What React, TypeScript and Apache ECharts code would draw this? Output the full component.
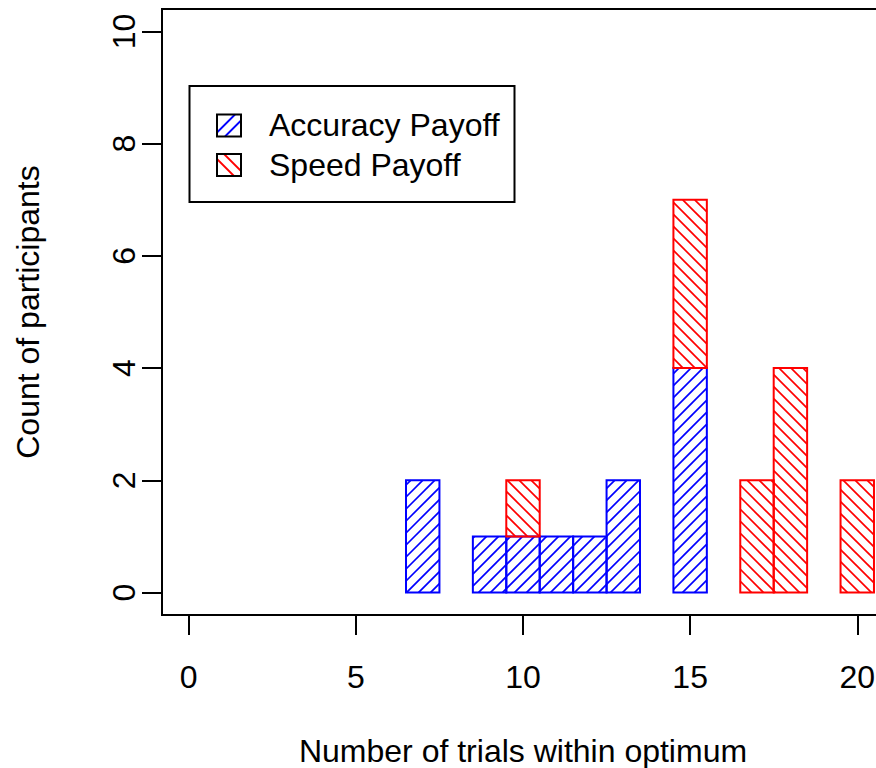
import React, { useEffect, useRef } from "react";
import * as echarts from "echarts";

// Histogram of trials within optimum, split by payoff condition
const trialCounts = [7, 9, 10, 11, 12, 13, 15, 17, 18, 20];
const accuracyCounts = [2, 1, 1, 1, 1, 2, 4, 0, 0, 0];
const speedCounts = [0, 0, 1, 0, 0, 0, 3, 2, 4, 2];

const seriesNames = ["Accuracy Payoff", "Speed Payoff"];
const seriesColors = ["#0000FF", "#FF0000"];
const xTicks = [0, 5, 10, 15, 20];
const yTicks = [0, 2, 4, 6, 8, 10];

const FONT = "Liberation Sans, Arial, Helvetica, sans-serif";
const FONT_SIZE = 32;
const HATCH_STEP = 12;

type Seg = { x1: number; y1: number; x2: number; y2: number };

// Diagonal hatch segments clipped to a rectangle (screen coordinates).
// dir = 1 draws "/" lines (x + y = c), dir = -1 draws "\" lines (x - y = c).
function hatchSegments(
  x0: number, y0: number, x1: number, y1: number,
  dir: number, step: number, phase: number
): Seg[] {
  const segs: Seg[] = [];
  if (dir === 1) {
    const cMin = x0 + y0, cMax = x1 + y1;
    let c = Math.ceil((cMin - phase) / step) * step + phase;
    for (; c <= cMax; c += step) {
      const xa = Math.max(x0, c - y1);
      const xb = Math.min(x1, c - y0);
      if (xb - xa > 0.3) segs.push({ x1: xa, y1: c - xa, x2: xb, y2: c - xb });
    }
  } else {
    const cMin = x0 - y1, cMax = x1 - y0;
    let c = Math.ceil((cMin - phase) / step) * step + phase;
    for (; c <= cMax; c += step) {
      const xa = Math.max(x0, y0 + c);
      const xb = Math.min(x1, y1 + c);
      if (xb - xa > 0.3) segs.push({ x1: xa, y1: xa - c, x2: xb, y2: xb - c });
    }
  }
  return segs;
}

function buildStack(values: number[], base: number[]) {
  const out: number[][] = [];
  trialCounts.forEach((x, i) => {
    if (values[i] > 0) out.push([x, base[i], base[i] + values[i]]);
  });
  return out;
}

function hatchedBar(color: string, dir: number) {
  return (params: any, api: any) => {
    const x = api.value(0);
    const lo = api.value(1);
    const hi = api.value(2);
    const pA = api.coord([x - 0.5, lo]);
    const pB = api.coord([x + 0.5, hi]);
    const x0 = pA[0], x1 = pB[0], y0 = pB[1], y1 = pA[1];
    const lines = hatchSegments(x0, y0, x1, y1, dir, HATCH_STEP, 3).map((s) => ({
      type: "line",
      shape: s,
      style: { stroke: color, lineWidth: 1.7 },
    }));
    return {
      type: "group",
      children: [
        ...lines,
        {
          type: "rect",
          shape: { x: x0, y: y0, width: x1 - x0, height: y1 - y0 },
          style: { fill: "none", stroke: color, lineWidth: 2 },
        },
      ],
    };
  };
}

function legendKey(x: number, y: number, w: number, h: number, color: string, dir: number, cs: number[]) {
  const lines = cs.map((c) => {
    let seg: Seg;
    if (dir === 1) {
      const xa = Math.max(0, c - h), xb = Math.min(w, c);
      seg = { x1: x + xa, y1: y + c - xa, x2: x + xb, y2: y + c - xb };
    } else {
      const xa = Math.max(0, c), xb = Math.min(w, h + c);
      seg = { x1: x + xa, y1: y + xa - c, x2: x + xb, y2: y + xb - c };
    }
    return { type: "line", shape: seg, style: { stroke: color, lineWidth: 1.8 } };
  });
  return [
    ...lines,
    { type: "rect", shape: { x, y, width: w, height: h }, style: { fill: "none", stroke: "#000", lineWidth: 2 } },
  ];
}

export default function App() {
  const ref = useRef<HTMLDivElement>(null);

  useEffect(() => {
    if (!ref.current) return;
    const chart = echarts.init(ref.current, undefined, { renderer: "svg" });
    const zeros = trialCounts.map(() => 0);

    chart.setOption({
      animation: false,
      backgroundColor: "#fff",
      textStyle: { fontFamily: FONT },
      grid: {
        left: 162,
        top: 9,
        width: 722,
        height: 606,
        outerBoundsMode: "none",
        containLabel: false,
        show: true,
        borderColor: "#000",
        borderWidth: 2,
        backgroundColor: "transparent",
      },
      xAxis: {
        type: "value",
        min: -0.8,
        max: 20.8,
        name: "Number of trials within optimum",
        nameLocation: "middle",
        nameGap: 120,
        nameTextStyle: { fontSize: FONT_SIZE, color: "#000", fontFamily: FONT },
        axisLine: { show: false, onZero: false },
        splitLine: { show: false },
        axisTick: { show: true, inside: false, length: 20, lineStyle: { color: "#000", width: 2 }, customValues: xTicks },
        axisLabel: { customValues: xTicks, fontSize: FONT_SIZE, color: "#000", margin: 46, fontFamily: FONT },
      },
      yAxis: {
        type: "value",
        min: -0.4,
        max: 10.4,
        name: "Count of participants",
        nameLocation: "middle",
        nameRotate: 90,
        nameGap: 118,
        nameTextStyle: { fontSize: FONT_SIZE, color: "#000", fontFamily: FONT },
        axisLine: { show: false, onZero: false },
        splitLine: { show: false },
        axisTick: { show: true, inside: false, length: 20, lineStyle: { color: "#000", width: 2 }, customValues: yTicks },
        axisLabel: {
          customValues: yTicks,
          rotate: 90,
          fontSize: FONT_SIZE,
          color: "#000",
          margin: 22,
          align: "center",
          verticalAlign: "bottom",
          fontFamily: FONT,
        },
      },
      series: [
        {
          name: seriesNames[0],
          type: "custom",
          renderItem: hatchedBar(seriesColors[0], 1),
          data: buildStack(accuracyCounts, zeros),
          encode: { x: 0, y: [1, 2] },
          clip: false,
        },
        {
          name: seriesNames[1],
          type: "custom",
          renderItem: hatchedBar(seriesColors[1], -1),
          data: buildStack(speedCounts, accuracyCounts),
          encode: { x: 0, y: [1, 2] },
          clip: false,
        },
      ],
      graphic: [
        {
          type: "group",
          children: [
            {
              type: "rect",
              shape: { x: 189.5, y: 86, width: 325, height: 116 },
              style: { fill: "#fff", stroke: "#000", lineWidth: 2 },
            },
            ...legendKey(217, 114.5, 24, 22, seriesColors[0], 1, [18, 30]),
            ...legendKey(217, 154, 24, 22, seriesColors[1], -1, [-5, 7]),
            {
              type: "text",
              x: 269,
              y: 125,
              style: { text: seriesNames[0], font: `${FONT_SIZE}px ${FONT}`, fill: "#000", verticalAlign: "middle" },
            },
            {
              type: "text",
              x: 269,
              y: 165,
              style: { text: seriesNames[1], font: `${FONT_SIZE}px ${FONT}`, fill: "#000", verticalAlign: "middle" },
            },
          ],
        },
      ],
    });

    return () => chart.dispose();
  }, []);

  return (
    <div
      ref={ref}
      style={{ position: "absolute", left: 0, top: 0, width: 876, height: 768 }}
    />
  );
}
